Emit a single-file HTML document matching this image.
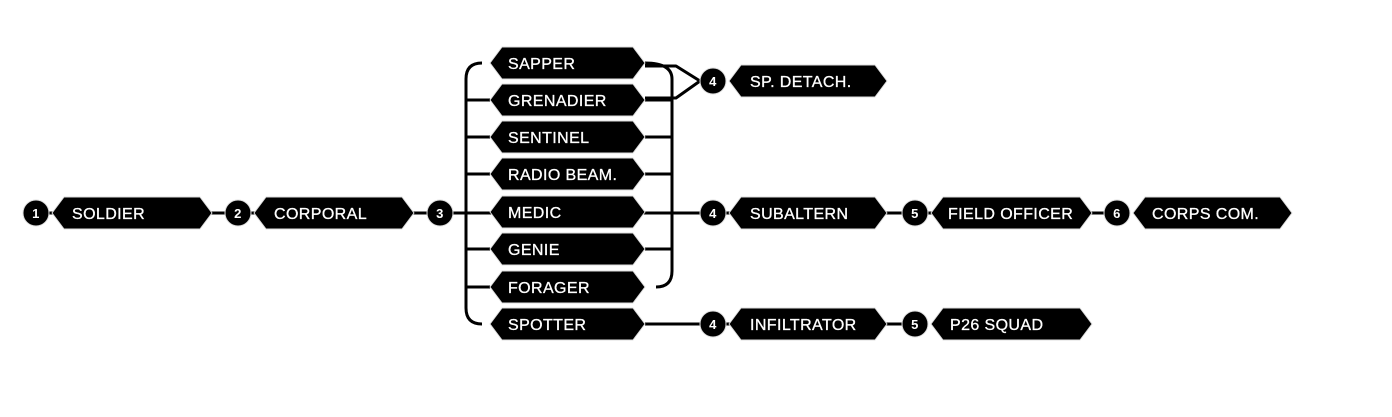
<!DOCTYPE html>
<html><head><style>
body{margin:0;background:#fff;}
svg{display:block;}
text{font-family:"Liberation Sans",sans-serif;font-size:16px;fill:#fff;letter-spacing:0.4px;stroke:#fff;stroke-width:0.3px;}
.n{font-weight:bold;font-size:13px;text-anchor:middle;stroke:none;}
</style></head><body>
<svg width="1392" height="417" viewBox="0 0 1392 417" xmlns="http://www.w3.org/2000/svg">
<defs>
<g id="lines">
<path d="M36 213 H700"/>
<path d="M713 213 H1117"/>
<path d="M645 324 H915"/>
<path d="M482 63 Q466 63 466 79 V308 Q466 324 482 324"/>
<path d="M645 63 Q672 63 672 79 V271 Q672 287 656 287"/>
<path d="M466 100 H490 M466 137 H490 M466 174 H490 M466 249 H490 M466 287 H490"/>
<path d="M645 100 H672 M645 137 H672 M645 174 H672 M645 249 H672"/>
<path d="M645 66 H676 L700 81 M645 98 H676 L700 81"/>
</g>
</defs>
<g fill="none" stroke="#fff" stroke-width="7" stroke-linejoin="round"><use href="#lines"/></g>
<g fill="none" stroke="#000" stroke-width="3" stroke-linejoin="round"><use href="#lines"/></g>
<g fill="#000" stroke="#ddd" stroke-width="1" stroke-linejoin="round">
<circle cx="36" cy="213" r="13"/><circle cx="238" cy="213" r="13"/><circle cx="440" cy="213" r="13"/>
<circle cx="713" cy="81" r="13"/><circle cx="713" cy="213" r="13"/><circle cx="713" cy="324" r="13"/>
<circle cx="915" cy="213" r="13"/><circle cx="915" cy="324" r="13"/><circle cx="1117" cy="213" r="13"/>
<polygon points="52,213 64,197 200,197 212,213 200,229 64,229"/>
<polygon points="254,213 266,197 402,197 414,213 402,229 266,229"/>
<polygon points="729,81 741,65 875,65 887,81 875,97 741,97"/>
<polygon points="729,213 741,197 875,197 887,213 875,229 741,229"/>
<polygon points="729,324 741,308 875,308 887,324 875,340 741,340"/>
<polygon points="931,213 943,197 1080,197 1092,213 1080,229 943,229"/>
<polygon points="931,324 943,308 1080,308 1092,324 1080,340 943,340"/>
<polygon points="1133,213 1145,197 1280,197 1292,213 1280,229 1145,229"/>
<polygon points="490,63 502,47 633,47 645,63 633,79 502,79"/>
<polygon points="490,100 502,84 633,84 645,100 633,116 502,116"/>
<polygon points="490,137 502,121 633,121 645,137 633,153 502,153"/>
<polygon points="490,174 502,158 633,158 645,174 633,190 502,190"/>
<polygon points="490,212 502,196 633,196 645,212 633,228 502,228"/>
<polygon points="490,249 502,233 633,233 645,249 633,265 502,265"/>
<polygon points="490,287 502,271 633,271 645,287 633,303 502,303"/>
<polygon points="490,324 502,308 633,308 645,324 633,340 502,340"/>
</g>
<text class="n" x="36" y="218">1</text><text class="n" x="238" y="218">2</text><text class="n" x="440" y="218">3</text>
<text class="n" x="713" y="86">4</text><text class="n" x="713" y="218">4</text><text class="n" x="713" y="329">4</text>
<text class="n" x="915" y="218">5</text><text class="n" x="915" y="329">5</text><text class="n" x="1117" y="218">6</text>
<text x="72" y="219">SOLDIER</text>
<text x="274" y="219">CORPORAL</text>
<text x="750" y="87">SP. DETACH.</text>
<text x="750" y="219">SUBALTERN</text>
<text x="750" y="330">INFILTRATOR</text>
<text x="948" y="219">FIELD OFFICER</text>
<text x="950" y="330">P26 SQUAD</text>
<text x="1152" y="219">CORPS COM.</text>
<text x="508" y="69">SAPPER</text>
<text x="508" y="106">GRENADIER</text>
<text x="508" y="143">SENTINEL</text>
<text x="508" y="180">RADIO BEAM.</text>
<text x="508" y="218">MEDIC</text>
<text x="508" y="255">GENIE</text>
<text x="508" y="293">FORAGER</text>
<text x="508" y="330">SPOTTER</text>
</svg>
</body></html>
